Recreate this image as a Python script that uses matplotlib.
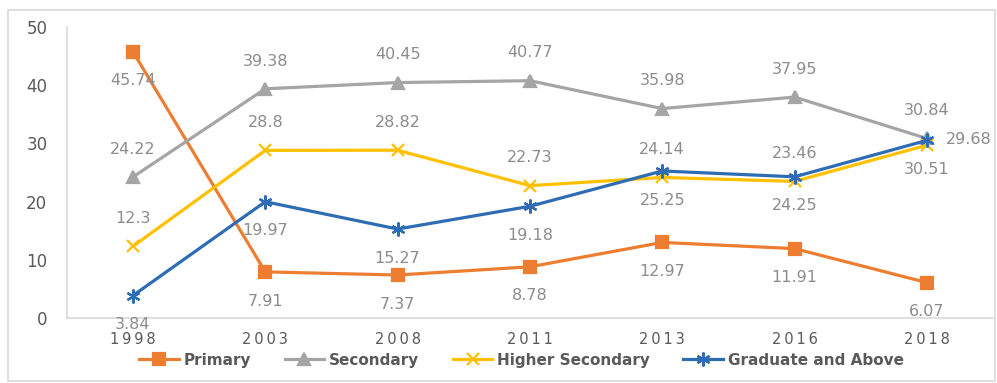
import matplotlib.pyplot as plt
from matplotlib.patches import Rectangle

years = ["1998", "2003", "2008", "2011", "2013", "2016", "2018"]
primary = [45.74, 7.91, 7.37, 8.78, 12.97, 11.91, 6.07]
secondary = [24.22, 39.38, 40.45, 40.77, 35.98, 37.95, 30.84]
higher_secondary = [12.3, 28.8, 28.82, 22.73, 24.14, 23.46, 29.68]
graduate = [3.84, 19.97, 15.27, 19.18, 25.25, 24.25, 30.51]

fig = plt.figure(figsize=(9.97, 3.83), dpi=100)
ax = fig.add_axes([0.067, 0.170, 0.929, 0.7595])

x = list(range(len(years)))
series = [
    ("Primary", primary, "#ED7D31", "s", 9, "below"),
    ("Secondary", secondary, "#A5A5A5", "^", 9, "above"),
    ("Higher Secondary", higher_secondary, "#FFC000", "x", 9, "above"),
    ("Graduate and Above", graduate, "#2E6DB4", (6, 2, 0), 10, "below"),
]

label_col = "#8C8C8C"
for name, vals, col, mk, ms, pos in series:
    ax.plot(x, vals, color=col, lw=2.3, marker=mk, ms=ms, mew=1.6,
            mec=col, mfc=col, label=name, zorder=3)
    for i, v in enumerate(vals):
        if name == "Higher Secondary" and i == len(vals) - 1:
            # last point: label on the right so it does not collide
            ax.annotate(f"{v:g}", (i, v), xytext=(14, 4), textcoords="offset points",
                        ha="left", va="center", fontsize=11.5, color=label_col,
                        annotation_clip=False)
            continue
        dy = 20 if pos == "above" else -21
        ax.annotate(f"{v:g}", (i, v), xytext=(0, dy), textcoords="offset points",
                    ha="center", va="center", fontsize=11.5, color=label_col,
                    annotation_clip=False)

ax.set_xlim(-0.5, 6.5)
ax.set_ylim(0, 50)
ax.set_yticks([0, 10, 20, 30, 40, 50])
ax.set_xticks(x)
ax.set_xticklabels(["\u2009".join(y) for y in years])
ax.tick_params(axis="y", length=0, pad=14, labelsize=12, labelcolor="#595959")
ax.tick_params(axis="x", length=0, pad=10, labelsize=10.5, labelcolor="#595959")
for s in ["top", "right"]:
    ax.spines[s].set_visible(False)
for s in ["left", "bottom"]:
    ax.spines[s].set_color("#D9D9D9")
    ax.spines[s].set_linewidth(1.2)

leg = fig.legend(loc="center", bbox_to_anchor=(0.523, 0.06), ncol=4, frameon=False,
                 handlelength=2.6, columnspacing=2.2, handletextpad=0.3,
                 prop={"weight": "bold", "size": 11})
for t in leg.get_texts():
    t.set_color("#595959")

# chart area border
fig.patches.append(Rectangle((0.008, 0.005), 0.99, 0.968, transform=fig.transFigure,
                             fill=False, edgecolor="#D9D9D9", lw=1.2))

fig.savefig("out.png", dpi=100)
